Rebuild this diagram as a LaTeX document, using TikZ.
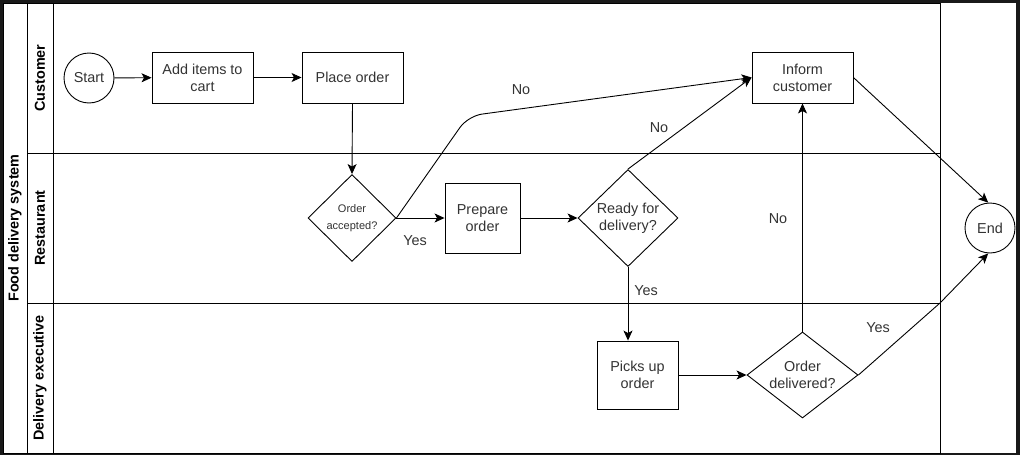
\documentclass[tikz,border=0pt]{standalone}
\usepackage{fontspec}
\setmainfont{Liberation Sans}
\usetikzlibrary{shapes.geometric,arrows.meta,calc}
\newcommand\fmain{\fontsize{14.4}{17}\selectfont}
\newcommand\fsmall{\fontsize{11}{17}\selectfont}
\newcommand\flane{\fontsize{14.4}{17}\selectfont\bfseries}
\begin{document}
\begin{tikzpicture}[x=1pt,y=-1pt,
  line/.style={draw,line width=0.9pt},
  box/.style={draw,line width=0.9pt,inner sep=0pt,align=center,font=\fmain,text=black!80},
  rnd/.style={draw,circle,line width=0.9pt,inner sep=0pt,minimum size=50pt,font=\fmain,text=black!80},
  dia/.style={draw,diamond,line width=0.9pt,inner sep=0pt},
  dtext/.style={align=center,font=\fmain,inner sep=0pt,text=black!80},
  lbl/.style={font=\fmain,inner sep=0pt,text=black!80},
  lanelbl/.style={font=\flane,rotate=90,inner sep=0pt},
  arr/.style={draw,line width=0.9pt,-{Stealth[length=10pt,width=9pt,inset=2.5pt]}}
]
\useasboundingbox (0,0) rectangle (1020,455);
% screenshot frame
\fill[black!90] (0,0) rectangle (1020,455);
\fill[white] (3,3) rectangle (1016,453);

% pool and lanes
\draw[line] (3,3) rectangle (940,453);
\draw[line] (27,3) -- (27,453);
\draw[line] (53,3) -- (53,453);
\draw[line] (27,153) -- (940,153);
\draw[line] (27,303) -- (940,303);
\node[lanelbl] (pool) at (15,228) {Food delivery system};
\node[lanelbl] (lcust) at (40,78) {Customer};
\node[lanelbl] (lrest) at (40,228) {Restaurant};
\node[lanelbl] (ldel) at (40,378) {Delivery executive};

% nodes
\node[rnd] (start) at (89,78) {Start};
\node[box,minimum width=101pt,minimum height=51pt] (add) at (202.5,77.5) {Add items to\\cart};
\node[box,minimum width=101pt,minimum height=51pt] (place) at (352.5,77.5) {Place order};
\node[box,minimum width=101pt,minimum height=51pt] (inform) at (802.5,77.5) {Inform\\customer};
\node[dia,minimum width=88pt,minimum height=87pt] (acc) at (352,218) {};
\node[dtext,font=\fsmall] (acct) at (acc) {Order\\accepted?};
\node[box,minimum width=75pt,minimum height=70pt] (prep) at (482.5,218) {Prepare\\order};
\node[dia,minimum width=100pt,minimum height=97pt] (ready) at (628,218) {};
\node[dtext] (readyt) at (ready) {Ready for\\delivery?};
\node[box,minimum width=81pt,minimum height=68pt] (pick) at (637.5,375) {Picks up\\order};
\node[dia,minimum width=111pt,minimum height=86pt] (deliv) at (802.5,375) {};
\node[dtext] (delivt) at (deliv) {Order\\delivered?};
\node[rnd] (end) at (990,228) {End};

\coordinate (bendno) at (468,116);
\coordinate (bendyes) at (940,303);

% connectors
\draw[arr] (start) -- (add);
\draw[arr] (add) -- (place);
\draw[arr] (place.south) -- (acc.north);
\draw[arr] (acc.east) -- (prep.west);
\draw[arr, rounded corners=14pt] (acc.east) -- (bendno) -- (inform.west);
\draw[arr] (prep.east) -- (ready.west);
\draw[arr] (ready.north) -- (inform.west);
\draw[arr] (ready.south) -- (ready.south |- pick.north);
\draw[arr] (pick.east) -- (deliv.west);
\draw[arr] (deliv.north) -- (inform.south);
\draw[arr] (deliv.east) -- (bendyes) -- (end.-94);
\draw[arr] (inform.east) -- (end.94);

% connector labels
\node[lbl] (no1) at (521,90) {No};
\node[lbl] (yes1) at (415,241) {Yes};
\node[lbl] (no2) at (659,128) {No};
\node[lbl] (no3) at (778,219) {No};
\node[lbl] (yes2) at (646,291) {Yes};
\node[lbl] (yes3) at (878,328) {Yes};
\end{tikzpicture}
\end{document}
